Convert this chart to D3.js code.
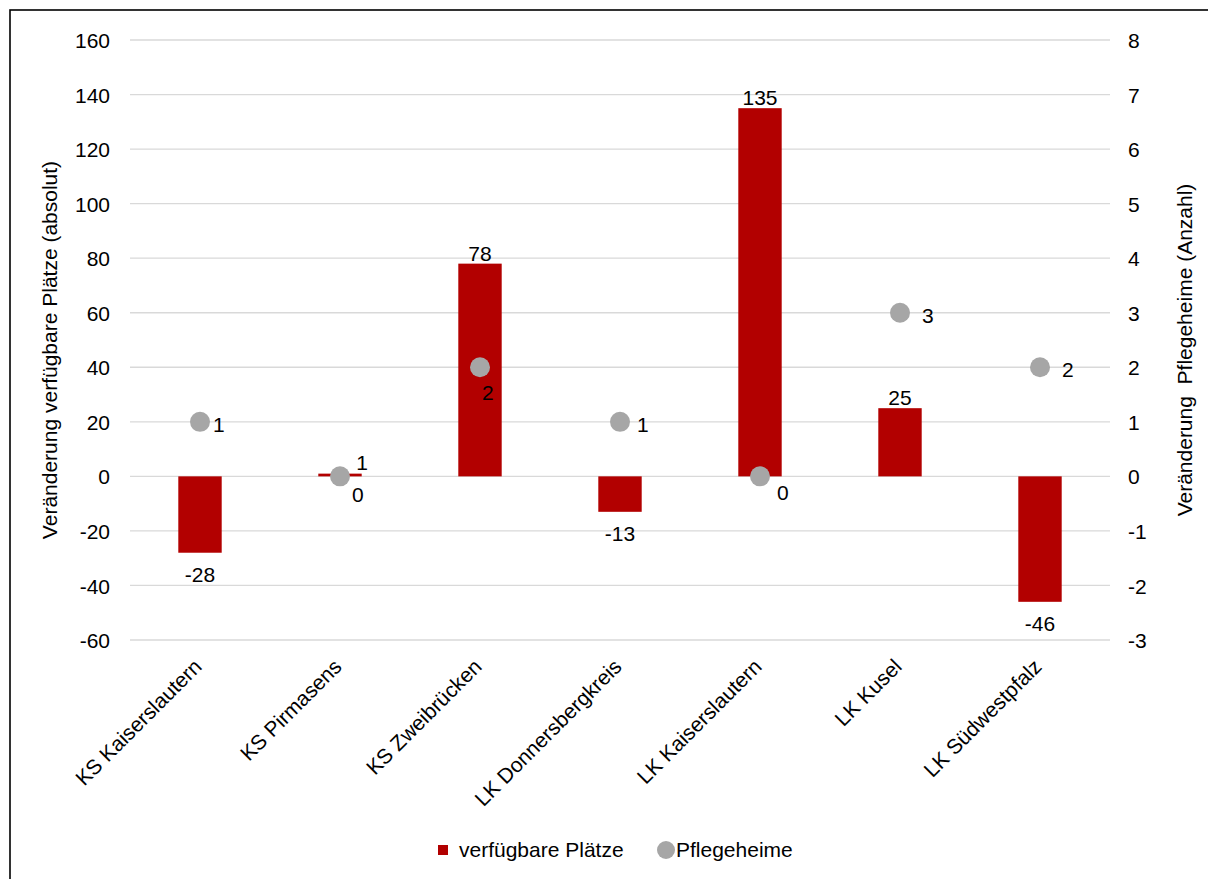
<!DOCTYPE html>
<html>
<head>
<meta charset="utf-8">
<script src="https://cdn.jsdelivr.net/npm/d3@7"></script>
<style>
  html, body { margin: 0; padding: 0; background: #fff; }
  svg { display: block; font-family: "Liberation Sans", Arial, sans-serif; }
</style>
</head>
<body>
<svg id="chart" width="1208" height="879"></svg>
<script>
// ---- data ----
const categories = ["KS Kaiserslautern", "KS Pirmasens", "KS Zweibrücken", "LK Donnersbergkreis", "LK Kaiserslautern", "LK Kusel", "LK Südwestpfalz"];
const plaetze = [-28, 1, 78, -13, 135, 25, -46];
const pflegeheime = [1, 0, 2, 1, 0, 3, 2];
const leftTicks = [-60, -40, -20, 0, 20, 40, 60, 80, 100, 120, 140, 160];
const rightTicks = [-3, -2, -1, 0, 1, 2, 3, 4, 5, 6, 7, 8];
const seriesNames = ["verfügbare Plätze", "Pflegeheime"];
const leftTitle = "Veränderung verfügbare Plätze (absolut)";
const rightTitle = "Veränderung  Pflegeheime (Anzahl)";
// label offsets (dx, baseline dy) for Pflegeheime point labels
const pointLabelOffset = [[13, 10], [12, 26], [2, 33], [17, 10], [17, 24], [22, 10], [22, 10]];

// ---- layout ----
const svg = d3.select("#chart");
const plot = { left: 130, right: 1110, top: 40, bottom: 640 };
const barColor = "#B20000";
const dotColor = "#A6A6A6";
const gridColor = "#D9D9D9";
const fontSize = 21;
const fam = "Liberation Sans, Arial, sans-serif";

svg.append("rect").attr("x", 10).attr("y", 10).attr("width", 1400).attr("height", 1200)
  .attr("fill", "#fff").attr("stroke", "#000").attr("stroke-width", 1.6);

const x = d3.scaleBand().domain(categories).range([plot.left, plot.right]).paddingInner(0.69).paddingOuter(0.345);
const xc = d3.scaleBand().domain(categories).range([plot.left, plot.right]);
const yL = d3.scaleLinear().domain([-60, 160]).range([plot.bottom, plot.top]);
const yR = d3.scaleLinear().domain([-3, 8]).range([plot.bottom, plot.top]);
const cx = i => xc(categories[i]) + xc.bandwidth() / 2;

// grid
svg.append("g").selectAll("line").data(leftTicks).join("line")
  .attr("x1", plot.left).attr("x2", plot.right)
  .attr("y1", d => yL(d)).attr("y2", d => yL(d))
  .attr("stroke", gridColor).attr("stroke-width", 1.3);

// left axis
const axL = svg.append("g").attr("transform", `translate(${plot.left - 20},0)`)
  .call(d3.axisLeft(yL).tickValues(leftTicks).tickFormat(d => String(d)).tickSize(0).tickPadding(0));
axL.select(".domain").remove();
axL.selectAll("text").attr("font-size", fontSize).attr("fill", "#000")
  .attr("font-family", fam).attr("dy", "0.36em");

// right axis
const axR = svg.append("g").attr("transform", `translate(${plot.right + 18},0)`)
  .call(d3.axisRight(yR).tickValues(rightTicks).tickFormat(d => String(d)).tickSize(0).tickPadding(0));
axR.select(".domain").remove();
axR.selectAll("text").attr("font-size", fontSize).attr("fill", "#000")
  .attr("font-family", fam).attr("dy", "0.36em");

// x axis labels
const axX = svg.append("g").attr("transform", `translate(0,${plot.bottom})`)
  .call(d3.axisBottom(xc).tickSize(0).tickPadding(0));
axX.select(".domain").remove();
axX.selectAll("text").attr("font-size", fontSize).attr("fill", "#000")
  .attr("font-family", fam)
  .attr("text-anchor", "end").attr("dy", null)
  .attr("transform", "translate(3,28) rotate(-45)");

// bars
svg.append("g").selectAll("rect").data(plaetze).join("rect")
  .attr("x", (d, i) => x(categories[i]))
  .attr("width", x.bandwidth())
  .attr("y", d => yL(Math.max(0, d)))
  .attr("height", d => Math.max(1.5, Math.abs(yL(d) - yL(0))))
  .attr("fill", barColor);

// bar labels
svg.append("g").selectAll("text").data(plaetze).join("text")
  .attr("x", (d, i) => cx(i) + (d === 1 ? 22 : 0))
  .attr("y", d => d >= 0 ? yL(d) - (d === 1 ? 4 : 3) : yL(d) + 29)
  .attr("text-anchor", "middle").attr("font-size", fontSize).attr("fill", "#000")
  .text(d => d);

// points
svg.append("g").selectAll("circle").data(pflegeheime).join("circle")
  .attr("cx", (d, i) => cx(i))
  .attr("cy", d => yR(d))
  .attr("r", 10)
  .attr("fill", dotColor);

// point labels
svg.append("g").selectAll("text").data(pflegeheime).join("text")
  .attr("x", (d, i) => cx(i) + pointLabelOffset[i][0])
  .attr("y", (d, i) => yR(d) + pointLabelOffset[i][1])
  .attr("text-anchor", "start").attr("font-size", fontSize).attr("fill", "#000")
  .text(d => d);

// axis titles
svg.append("text")
  .attr("transform", `translate(57,350) rotate(-90)`)
  .attr("text-anchor", "middle").attr("font-size", fontSize).attr("fill", "#000")
  .text(leftTitle);
svg.append("text")
  .attr("transform", `translate(1192,350) rotate(-90)`)
  .attr("text-anchor", "middle").attr("font-size", fontSize).attr("fill", "#000")
  .attr("xml:space", "preserve").style("white-space", "pre")
  .text(rightTitle);

// legend
const lg = svg.append("g");
lg.append("rect").attr("x", 438).attr("y", 845).attr("width", 10).attr("height", 10).attr("fill", barColor);
lg.append("text").attr("x", 459).attr("y", 857).attr("font-size", fontSize).text(seriesNames[0]);
lg.append("circle").attr("cx", 666).attr("cy", 850).attr("r", 9).attr("fill", dotColor);
lg.append("text").attr("x", 676).attr("y", 857).attr("font-size", fontSize).text(seriesNames[1]);
</script>
</body>
</html>
